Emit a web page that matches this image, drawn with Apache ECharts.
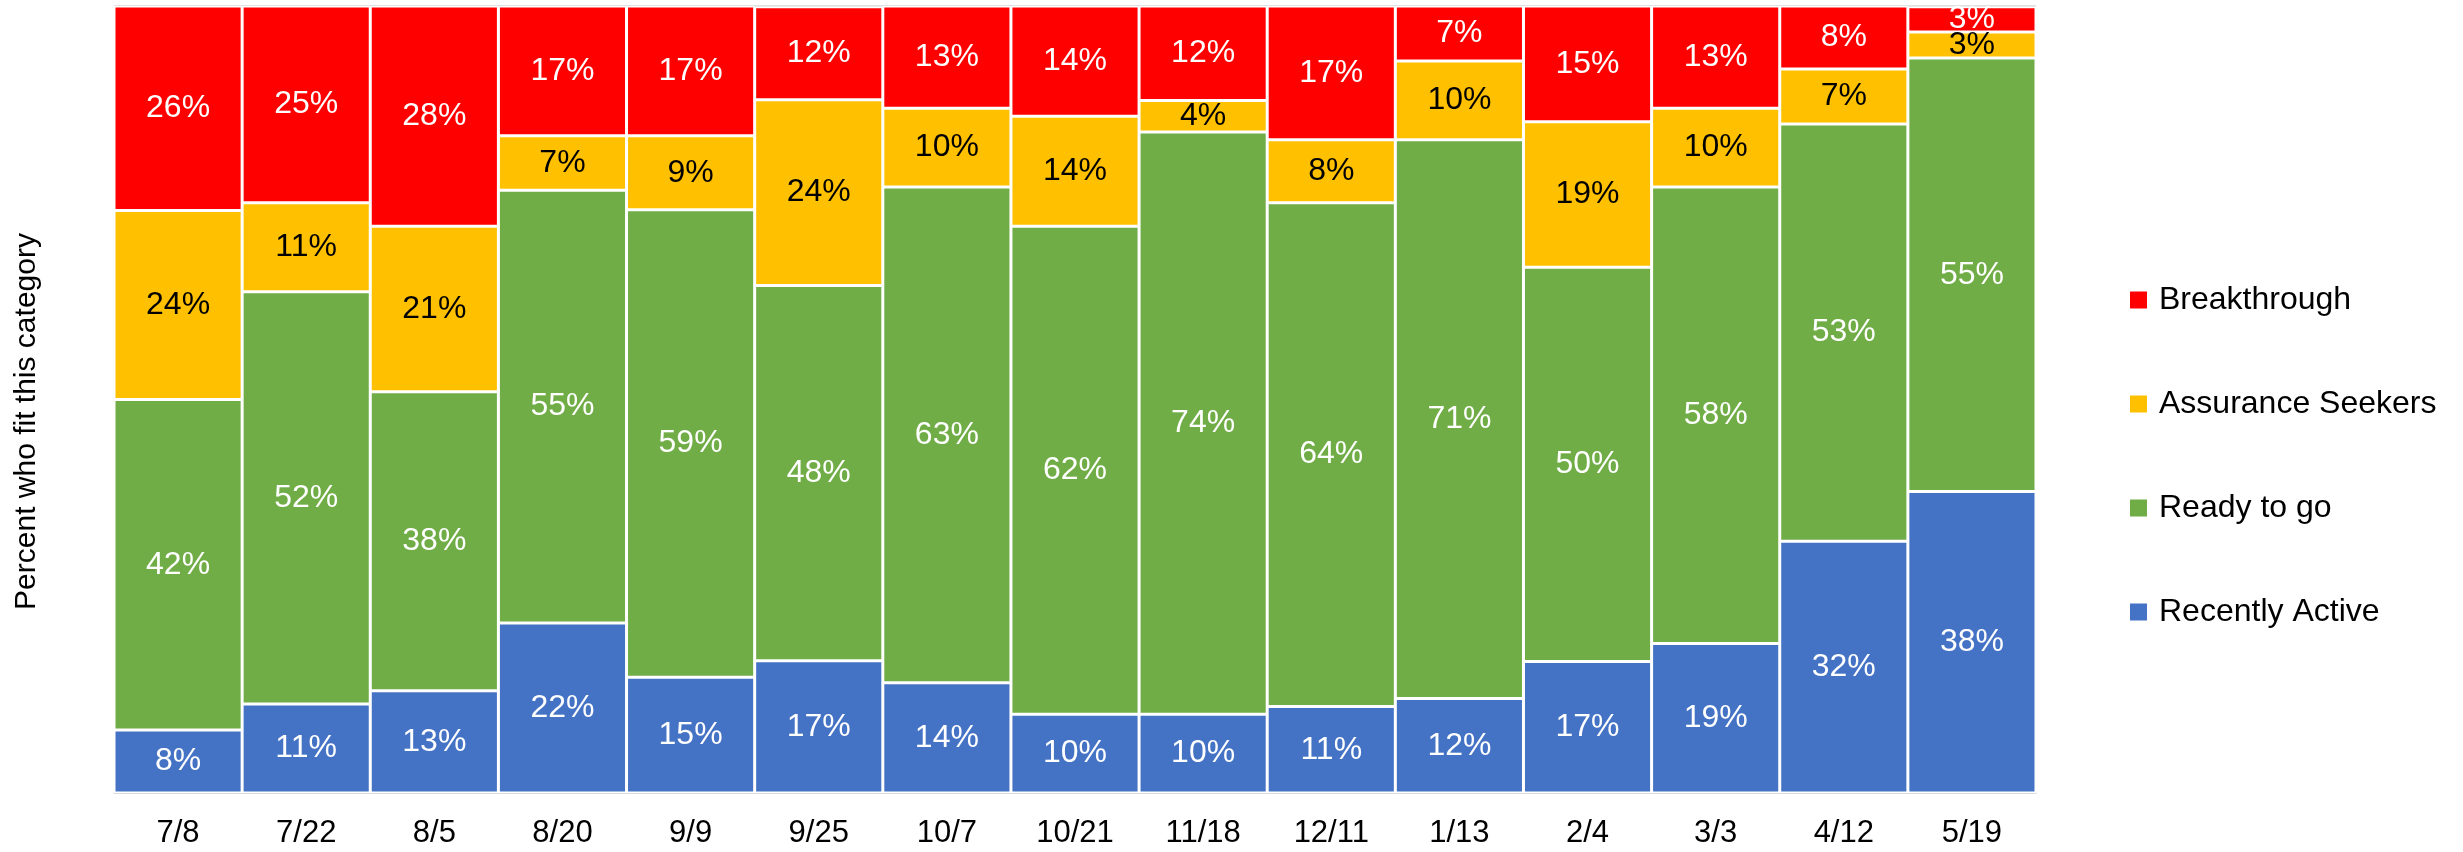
<!DOCTYPE html>
<html>
<head>
<meta charset="utf-8">
<script src="https://cdn.jsdelivr.net/npm/echarts@6/dist/echarts.min.js"></script>
<style>
  html, body { margin: 0; padding: 0; background: #fff; }
  #chart { width: 2463px; height: 852px; }
</style>
</head>
<body>
<div id="chart"></div>
<script>
const categories = ['7/8', '7/22', '8/5', '8/20', '9/9', '9/25', '10/7', '10/21', '11/18', '12/11', '1/13', '2/4', '3/3', '4/12', '5/19'];

// stacked bottom to top
const recentlyActive = [8, 11.3, 13, 21.6, 14.7, 16.8, 14, 10, 10, 11, 12, 16.7, 19, 32, 38.3];
const readyToGo = [42, 52.4, 38, 55.0, 59.4, 47.7, 63, 62, 74, 64, 71, 50.1, 58, 53, 55.1];
const assuranceSeekers = [24, 11.3, 21, 6.9, 9.4, 23.6, 10, 14, 4, 8, 10, 18.5, 10, 7, 3.3];
const breakthrough = [26, 25.0, 28, 16.5, 16.5, 11.8, 13, 14, 12, 17, 7, 14.7, 13, 8, 3.2];

const font = 'Liberation Sans, Arial, sans-serif';

const chartInstance = echarts.init(document.getElementById('chart'));

function makeSeries(name, data, color, labelColor) {
  return {
    name: name,
    type: 'bar',
    stack: 'total',
    barCategoryGap: '0%',
    data: data,
    itemStyle: { color: color, borderColor: '#fff', borderWidth: 1.5 },
    label: {
      show: true,
      position: 'inside',
      color: labelColor,
      fontFamily: font,
      fontSize: 32,
      formatter: (p) => Math.round(p.value) + '%',
    },
    emphasis: { disabled: true },
  };
}

const option = {
  animation: false,
  grid: { left: 114, right: 427, top: 6, bottom: 59, containLabel: false },
  legend: {
    orient: 'vertical',
    left: 2128,
    top: 284,
    padding: 0,
    itemWidth: 19,
    itemHeight: 19,
    itemGap: 72,
    icon: 'rect',
    data: ['Breakthrough', 'Assurance Seekers', 'Ready to go', 'Recently Active'],
    textStyle: {
      fontFamily: font,
      fontSize: 32,
      color: '#000',
      lineHeight: 31,
      padding: [0, 0, 0, 6],
    },
  },
  xAxis: {
    type: 'category',
    data: categories,
    axisLine: { lineStyle: { color: '#d9d9d9', width: 1.5 } },
    axisTick: { alignWithLabel: true, length: 7, lineStyle: { color: '#d9d9d9', width: 1.5 } },
    axisLabel: { color: '#000', fontFamily: font, fontSize: 31, margin: 25 },
  },
  yAxis: {
    type: 'value',
    min: 0,
    max: 100,
    interval: 100,
    name: 'Percent who fit this category',
    nameLocation: 'middle',
    nameGap: 72,
    nameRotate: 90,
    nameTextStyle: { color: '#000', fontFamily: font, fontSize: 30, padding: [0, 44, 0, 0] },
    axisLabel: { show: false },
    axisLine: { show: false },
    axisTick: { show: false },
    splitLine: { lineStyle: { color: '#d9d9d9', width: 1.5 } },
  },
  series: [
    makeSeries('Recently Active', recentlyActive, '#4472C4', '#fff'),
    makeSeries('Ready to go', readyToGo, '#70AD47', '#fff'),
    makeSeries('Assurance Seekers', assuranceSeekers, '#FFC000', '#000'),
    makeSeries('Breakthrough', breakthrough, '#FF0000', '#fff'),
  ],
};

chartInstance.setOption(option);
</script>
</body>
</html>
